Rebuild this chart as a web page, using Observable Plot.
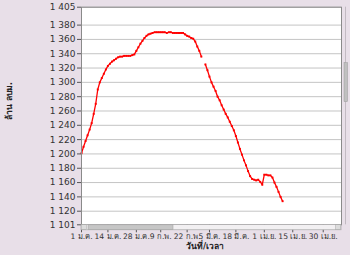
<!DOCTYPE html>
<html><head><meta charset="utf-8">
<script src="https://cdn.jsdelivr.net/npm/d3@7"></script>
<script src="https://cdn.jsdelivr.net/npm/@observablehq/plot@0.6"></script>
<style>
html,body{margin:0;padding:0;background:#e8dfe8;overflow:hidden;}
</style></head><body><div id="chart"></div>
<script>
// Daily reservoir volume (million m3) from 1 Jan, one value per day; null = missing
const volume = [
  1201,1210,1218,1226,1234,1243,1256,1270,1290,1300,
  1306,1312,1318,1323,1326,1329,1331,1333,1335,1336,
  1336,1337,1337,1337,1337,1338,1339,1344,1349,1354,
  1358,1362,1365,1367,1368,1369,1370,1370,1370,1370,
  1370,1370,1369,1370,1370,1369,1369,1369,1369,1369,
  1369,1367,1365,1364,1362,1361,1357,1350,1344,1336,
  null,1325,1317,1308,1300,1294,1288,1280,1275,1268,
  1262,1256,1251,1245,1239,1233,1225,1216,1207,1199,
  1191,1184,1176,1169,1165,1164,1163,1164,1161,1157,
  1171,1171,1170,1170,1167,1160,1154,1147,1140,1134
];
const yTicks = [1101,1120,1140,1160,1180,1200,1220,1240,1260,1280,1300,1320,1340,1360,1380,1405];
const xTickDays = [0,13,27,39,52,63,76,90,104,119];
const xTickLabels = ["1 ม.ค.","14 ม.ค.","28 ม.ค.","9 ก.พ.","22 ก.พ.","5 มี.ค.","18 มี.ค.","1 เม.ย.","15 เม.ย.","30 เม.ย."];
const yLabel = "ล้าน ลบม.";
const xLabel = "วันที่/เวลา";

const day = d => new Date(Date.UTC(2015, 0, 1 + d));
const data = volume.map((v, i) => ({date: day(i), v}));
const xTickDates = xTickDays.map(day);
const labelOf = new Map(xTickDates.map((d, i) => [+d, xTickLabels[i]]));
const font = "Tahoma, 'DejaVu Sans', 'Noto Sans', sans-serif";

const chart = Plot.plot({
  width: 350, height: 255,
  marginLeft: 81, marginRight: 9, marginTop: 6.7, marginBottom: 30.7,
  style: {background: "#e8dfe8", fontFamily: font, fontSize: "9px", color: "#333"},
  x: {type: "utc", domain: [day(0), day(128)]},
  y: {domain: [1101, 1405]},
  marks: [
    Plot.frame({fill: "white", stroke: null}),
    Plot.gridY(yTicks, {stroke: "#c4c4c4", strokeOpacity: 1, strokeWidth: 1}),
    Plot.line(data, {x: "date", y: "v", stroke: "#ff0000", strokeWidth: 1.3}),
    Plot.dot(data, {x: "date", y: "v", symbol: "square", r: 1.1, fill: "#ff0000", stroke: null}),
    Plot.frame({stroke: "#8a8a8a"}),
    Plot.axisY({ticks: yTicks, tickSize: 4, tickPadding: 2, stroke: "#555",
      tickFormat: d => d3.format(",")(d).replace(",", " "), label: null}),
    Plot.axisX({ticks: xTickDates, tickSize: 8, tickPadding: 1, stroke: "#555", fontSize: 7.6,
      tickFormat: d => labelOf.get(+d), label: null})
  ]
});
document.getElementById("chart").appendChild(chart);

const svg = d3.select(chart);
// horizontal scrollbar
const hs = svg.append("g");
hs.append("rect").attr("x", 81).attr("y", 224.3).attr("width", 260).attr("height", 5.5).attr("fill", "#f2f0f2").attr("stroke", "#9a9a9a").attr("stroke-width", 0.6);
hs.append("rect").attr("x", 81.5).attr("y", 224.8).attr("width", 5).attr("height", 4.5).attr("fill", "#dcdcdc").attr("stroke", "#999").attr("stroke-width", 0.4);
hs.append("rect").attr("x", 88).attr("y", 224.8).attr("width", 85).attr("height", 4.5).attr("fill", "#c6c6c6").attr("stroke", "#9c9c9c").attr("stroke-width", 0.5);
hs.append("rect").attr("x", 335.5).attr("y", 224.8).attr("width", 5).attr("height", 4.5).attr("fill", "#dcdcdc").attr("stroke", "#999").attr("stroke-width", 0.4);
// vertical scrollbar
const vs = svg.append("g");
vs.append("line").attr("x1", 345.5).attr("x2", 345.5).attr("y1", 6.7).attr("y2", 224.3).attr("stroke", "#b8b0b8").attr("stroke-width", 0.8);
vs.append("rect").attr("x", 344).attr("y", 62.7).attr("width", 3.5).attr("height", 39).attr("fill", "#c0c0c0").attr("stroke", "#999").attr("stroke-width", 0.5);
// titles
svg.append("text").attr("transform", "translate(9,101) rotate(-90)").attr("text-anchor", "middle")
  .attr("dominant-baseline", "middle").attr("font-weight", "bold").attr("font-size", 8.5).attr("fill", "#222").text(yLabel);
svg.append("text").attr("x", 205).attr("y", 246.5).attr("text-anchor", "middle")
  .attr("dominant-baseline", "middle").attr("font-weight", "bold").attr("font-size", 8.5).attr("fill", "#222").text(xLabel);
</script></body></html>
